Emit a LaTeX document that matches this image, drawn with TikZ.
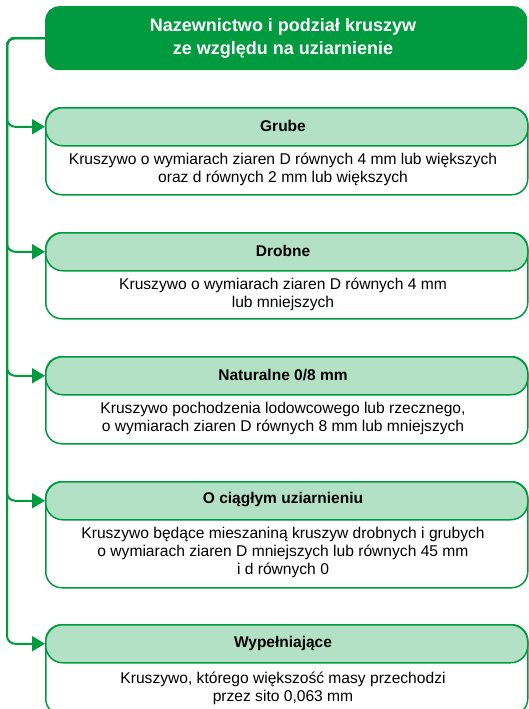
\documentclass[tikz,border=0pt]{standalone}
\usepackage{fontspec}
\setmainfont{Liberation Sans}
\usetikzlibrary{arrows.meta}
\definecolor{dgreen}{RGB}{0,155,62}
\definecolor{lgreen}{RGB}{179,225,197}
\begin{document}
\begin{tikzpicture}[x=1pt,y=-1pt,
 titlebox/.style={draw=none, fill=dgreen, rounded corners=14pt, minimum width=482pt, minimum height=64pt, anchor=north west, inner sep=0pt},
 titletext/.style={text=white, font=\fontsize{18}{22.5}\selectfont\bfseries, align=center, inner sep=0pt},
 outerbox/.style={draw=dgreen, line width=1.5pt, rounded corners=16pt, minimum width=482pt, anchor=north west, inner sep=0pt, fill=white},
 hdrbox/.style={draw=dgreen, line width=1.5pt, fill=lgreen, rounded corners=17pt, minimum width=482pt, minimum height=38pt, anchor=north west, inner sep=0pt},
 hdrtext/.style={font=\fontsize{15.5}{18}\selectfont\bfseries, inner sep=0pt},
 bodytext/.style={align=center, font=\fontsize{15.6}{18}\selectfont, inner sep=0pt},
 conn/.style={draw=dgreen, line width=2pt, rounded corners=8pt, -{Triangle[length=13pt,width=15pt]}}
]
\useasboundingbox (0,0) rectangle (528,709);

\node[titlebox] (title) at (45,6) {};
\node[titletext] (titleT) at (283,38.5) {Nazewnictwo i podział kruszyw\\ze względu na uziarnienie};

% Grube
\node[outerbox, minimum height=87pt] (b1) at (45,107) {};
\node[hdrbox] (h1) at (45,107) {};
\node[hdrtext] (h1T) at (283,126) {Grube};
\node[bodytext] (t1) at (283,169.5) {Kruszywo o wymiarach ziaren D równych 4 mm lub większych\\oraz d równych 2 mm lub większych};

% Drobne
\node[outerbox, minimum height=86pt] (b2) at (45,232) {};
\node[hdrbox] (h2) at (45,232) {};
\node[hdrtext] (h2T) at (283,251) {Drobne};
\node[bodytext] (t2) at (283,294) {Kruszywo o wymiarach ziaren D równych 4 mm\\lub mniejszych};

% Naturalne
\node[outerbox, minimum height=87pt] (b3) at (45,356) {};
\node[hdrbox] (h3) at (45,356) {};
\node[hdrtext] (h3T) at (283,375) {Naturalne 0/8 mm};
\node[bodytext] (t3) at (283,418) {Kruszywo pochodzenia lodowcowego lub rzecznego,\\o wymiarach ziaren D równych 8 mm lub mniejszych};

% O ciaglym
\node[outerbox, minimum height=106pt] (b4) at (45,481) {};
\node[hdrbox] (h4) at (45,481) {};
\node[hdrtext] (h4T) at (283,500) {O ciągłym uziarnieniu};
\node[bodytext] (t4) at (283,552.5) {Kruszywo będące mieszaniną kruszyw drobnych i grubych\\o wymiarach ziaren D mniejszych lub równych 45 mm\\i d równych 0};

% Wypelniajace
\node[outerbox, minimum height=90pt] (b5) at (45,624) {};
\node[hdrbox] (h5) at (45,624) {};
\node[hdrtext] (h5T) at (283,643) {Wypełniające};
\node[bodytext] (t5) at (283,688.5) {Kruszywo, którego większość masy przechodzi\\przez sito 0,063 mm};

% connectors
\foreach \h in {h1,h2,h3,h4,h5}{
  \draw[conn] (title.west) -- (7,38) |- (\h.west);
}
\end{tikzpicture}
\end{document}
